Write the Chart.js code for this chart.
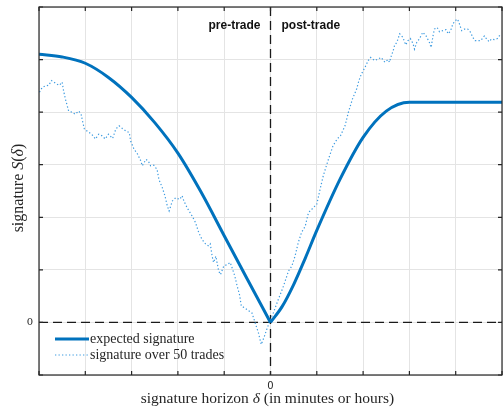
<!DOCTYPE html>
<html lang="en">
<head>
    <meta charset="UTF-8">
    <title>Signature</title>
    <script src="https://cdn.jsdelivr.net/npm/chart.js"></script>
    <style>
        body, html { margin: 0; padding: 0; background: #fff; }
        #wrap { width: 503px; height: 408px; position: relative; }
    </style>
</head>
<body>
    <div id="wrap"><canvas id="sigChart"></canvas></div>

    <script>
        // expected signature, before the trade (horizon <= 0)
        const preX = [-5, -4.5, -4, -3.5, -3, -2.5, -2, -1.5, -1, -0.5, 0];
        const preY = [5.1, 5.05, 4.93, 4.66, 4.28, 3.8, 3.22, 2.48, 1.65, 0.82, 0];

        // expected signature, after the trade (horizon >= 0)
        const postX = [0, 0.25, 0.5, 0.75, 1, 1.5, 2, 2.5, 3, 3.5, 4, 4.5, 5];
        const postY = [0, 0.3, 0.72, 1.22, 1.75, 2.72, 3.52, 4.02, 4.19, 4.19, 4.19, 4.19, 4.19];

        // signature observed over 50 trades
        const dotX = [-4.99, -4.93, -4.86, -4.79, -4.73, -4.68, -4.61, -4.56, -4.50, -4.47, -4.43, -4.39, -4.36, -4.29, -4.22, -4.14, -4.09, -4.06, -4.02,
            -3.93, -3.86, -3.78, -3.71, -3.64, -3.57, -3.50, -3.41, -3.34, -3.27, -3.20, -3.12, -3.05, -3.02,
            -2.95, -2.87, -2.80, -2.77, -2.69, -2.64, -2.59, -2.52, -2.45, -2.41, -2.34, -2.28, -2.23, -2.19, -2.12, -2.05,
            -1.96, -1.91, -1.87, -1.80, -1.69, -1.62, -1.55, -1.48, -1.40, -1.33, -1.30, -1.26, -1.23, -1.18, -1.12, -1.08, -1.01,
            -0.94, -0.87, -0.83, -0.77, -0.72, -0.67, -0.63, -0.56, -0.47, -0.40, -0.33, -0.26, -0.20, -0.13, -0.08, -0.03,
            0.06, 0.17, 0.28, 0.39, 0.46, 0.53, 0.60, 0.67, 0.75, 0.82, 0.89, 1.00,
            1.07, 1.14, 1.25, 1.35, 1.44, 1.51, 1.61, 1.68, 1.77, 1.86, 1.91, 1.96,
            2.04, 2.11, 2.16, 2.25, 2.32, 2.39, 2.47, 2.54, 2.57, 2.61, 2.65, 2.68, 2.73, 2.79, 2.86, 2.92, 2.97,
            3.02, 3.08, 3.11, 3.16, 3.22, 3.29, 3.36, 3.43, 3.47, 3.51, 3.54, 3.60, 3.65, 3.72, 3.79, 3.84, 3.89, 3.94, 3.99,
            4.04, 4.08, 4.13, 4.19, 4.26, 4.32, 4.37, 4.42, 4.47, 4.54, 4.62, 4.67, 4.72, 4.77, 4.83, 4.90, 4.96];
        const dotY = [4.38, 4.47, 4.50, 4.51, 4.60, 4.57, 4.53, 4.51, 4.57, 4.41, 4.25, 4.12, 4.02, 4.00, 3.96, 4.02, 3.96, 3.83, 3.68,
            3.62, 3.58, 3.49, 3.58, 3.55, 3.49, 3.58, 3.50, 3.68, 3.74, 3.69, 3.64, 3.61, 3.45,
            3.30, 3.20, 3.07, 2.98, 3.10, 3.07, 2.98, 2.99, 2.91, 2.72, 2.57, 2.41, 2.22, 2.12, 2.31, 2.37,
            2.34, 2.41, 2.31, 2.18, 2.02, 1.90, 1.71, 1.58, 1.49, 1.45, 1.49, 1.26, 1.14, 1.26, 0.98, 0.91, 1.07,
            1.10, 1.14, 1.04, 0.88, 0.69, 0.53, 0.31, 0.28, 0.22, 0.18, -0.01, -0.20, -0.42, -0.26, -0.13, -0.01,
            0.18, 0.44, 0.69, 0.98, 1.07, 1.26, 1.52, 1.71, 1.83, 2.09, 2.15, 2.25,
            2.53, 2.79, 3.10, 3.36, 3.49, 3.55, 3.74, 3.99, 4.25, 4.44, 4.60, 4.72,
            4.85, 4.98, 5.04, 4.98, 5.01, 5.04, 4.95, 5.00, 4.95, 5.07, 5.17, 5.27, 5.33, 5.49, 5.42, 5.28, 5.36,
            5.40, 5.30, 5.20, 5.33, 5.40, 5.52, 5.45, 5.33, 5.23, 5.45, 5.58, 5.61, 5.53, 5.55, 5.57, 5.49, 5.55, 5.68, 5.74,
            5.77, 5.68, 5.55, 5.58, 5.58, 5.52, 5.42, 5.36, 5.36, 5.36, 5.45, 5.39, 5.34, 5.39, 5.38, 5.40, 5.47];

        const xRange = [-5, 5];
        const yRange = [-1, 6];
        const tickLabelsShown = [0];
        const legendLabels = ['expected signature', 'signature over 50 trades'];

        const solidBlue = '#0072bd';
        const dotBlue = '#3d9be0';
        const ink = '#262626';

        const pts = (xs, ys) => xs.map((v, i) => ({ x: v, y: ys[i] }));

        // pas de marge automatique autour des étiquettes
        const noScalePad = s => { s.paddingLeft = 0; s.paddingRight = 0; s.paddingTop = 0; s.paddingBottom = 0; };

        // lignes pointillées en 0, repères, cadre, légende, titres
        const decor = {
            id: 'decor',
            beforeDatasetsDraw(chart) {
                const { ctx, chartArea: a, scales: { x, y } } = chart;
                const x0 = x.getPixelForValue(0), y0 = y.getPixelForValue(0);
                ctx.save();
                ctx.strokeStyle = '#1a1a1a';
                ctx.lineWidth = 1.3;
                ctx.setLineDash([9, 5]);
                ctx.beginPath();
                ctx.moveTo(a.left, y0); ctx.lineTo(a.right, y0);
                ctx.moveTo(x0, a.top); ctx.lineTo(x0, a.bottom);
                ctx.stroke();
                ctx.restore();
            },
            afterDraw(chart) {
                const { ctx, chartArea: a, scales: { x, y } } = chart;
                ctx.save();
                // cadre
                ctx.strokeStyle = ink;
                ctx.lineWidth = 1.2;
                ctx.strokeRect(a.left, a.top, a.right - a.left, a.bottom - a.top);
                // repères vers l'intérieur
                ctx.beginPath();
                x.ticks.forEach(t => {
                    const px = x.getPixelForValue(t.value);
                    ctx.moveTo(px, a.bottom); ctx.lineTo(px, a.bottom - 4);
                    ctx.moveTo(px, a.top); ctx.lineTo(px, a.top + 4);
                });
                y.ticks.forEach(t => {
                    const py = y.getPixelForValue(t.value);
                    ctx.moveTo(a.left, py); ctx.lineTo(a.left + 4, py);
                    ctx.moveTo(a.right, py); ctx.lineTo(a.right - 4, py);
                });
                ctx.stroke();

                // pre-trade / post-trade
                const x0 = x.getPixelForValue(0);
                ctx.fillStyle = '#111';
                ctx.font = 'bold 12px "Liberation Sans", Arial, sans-serif';
                ctx.textBaseline = 'middle';
                ctx.textAlign = 'right';
                ctx.fillText('pre-trade', x0 - 10, a.top + 19);
                ctx.textAlign = 'left';
                ctx.fillText('post-trade', x0 + 11, a.top + 19);

                // légende
                const ds = chart.data.datasets;
                ctx.font = '14px "Liberation Serif", serif';
                ctx.fillStyle = ink;
                [0, 2].forEach((di, k) => {
                    const ly = a.bottom - 36 + k * 16;
                    ctx.save();
                    ctx.strokeStyle = ds[di].borderColor;
                    ctx.lineWidth = ds[di].borderWidth;
                    ctx.setLineDash(ds[di].borderDash || []);
                    ctx.beginPath();
                    ctx.moveTo(a.left + 16, ly); ctx.lineTo(a.left + 50, ly);
                    ctx.stroke();
                    ctx.restore();
                    ctx.textAlign = 'left';
                    ctx.fillText(legendLabels[k], a.left + 51, ly);
                });

                // titres des axes (avec italiques)
                const drawMixed = (parts, cx, cy) => {
                    let w = 0;
                    parts.forEach(p => { ctx.font = p[1]; w += ctx.measureText(p[0]).width; });
                    let cur = cx - w / 2;
                    ctx.textAlign = 'left';
                    parts.forEach(p => { ctx.font = p[1]; ctx.fillText(p[0], cur, cy); cur += ctx.measureText(p[0]).width; });
                };
                const upX = '15.5px "Liberation Serif", serif';
                const itX = 'italic 15.5px "Liberation Serif", serif';
                const upY = '16px "Liberation Serif", serif';
                const itY = 'italic 16px "Liberation Serif", serif';
                ctx.fillStyle = ink;
                drawMixed([['signature horizon ', upX], ['δ', itX], [' (in minutes or hours)', upX]],
                    (a.left + a.right) / 2 - 3, 399);
                ctx.save();
                ctx.translate(18.5, (a.top + a.bottom) / 2 - 3);
                ctx.rotate(-Math.PI / 2);
                drawMixed([['signature ', upY], ['S', itY], ['(', upY], ['δ', itY], [')', upY]], 0, 0);
                ctx.restore();
                ctx.restore();
            }
        };

        new Chart(document.getElementById('sigChart'), {
            type: 'line',
            data: {
                datasets: [
                    { data: pts(preX, preY), borderColor: solidBlue, borderWidth: 3, pointRadius: 0, cubicInterpolationMode: 'monotone' },
                    { data: pts(postX, postY), borderColor: solidBlue, borderWidth: 3, pointRadius: 0, cubicInterpolationMode: 'monotone' },
                    { data: pts(dotX, dotY), borderColor: dotBlue, borderWidth: 1.2, borderDash: [1.3, 2.2], pointRadius: 0, tension: 0 }
                ]
            },
            options: {
                responsive: true,
                maintainAspectRatio: false,
                animation: false,
                events: [],
                layout: { padding: { top: 7, right: 1, left: 0, bottom: 0 } },
                plugins: { legend: { display: false }, tooltip: { enabled: false } },
                scales: {
                    x: {
                        type: 'linear',
                        min: xRange[0], max: xRange[1],
                        ticks: {
                            stepSize: 1,
                            color: ink,
                            font: { family: 'DejaVu Sans', size: 10 },
                            padding: 5,
                            maxRotation: 0,
                            callback: v => tickLabelsShown.includes(v) ? String(v) : ''
                        },
                        grid: { color: '#e4e4e4', drawTicks: false },
                        border: { display: false },
                        afterFit: s => { s.height = 33; noScalePad(s); }
                    },
                    y: {
                        min: yRange[0], max: yRange[1],
                        ticks: {
                            stepSize: 1,
                            color: ink,
                            font: { family: 'DejaVu Serif', size: 10 },
                            padding: 6,
                            callback: v => tickLabelsShown.includes(v) ? String(v) : ''
                        },
                        grid: { color: '#e4e4e4', drawTicks: false },
                        border: { display: false },
                        afterFit: s => { s.width = 39; noScalePad(s); }
                    }
                }
            },
            plugins: [decor]
        });
    </script>
</body>
</html>
